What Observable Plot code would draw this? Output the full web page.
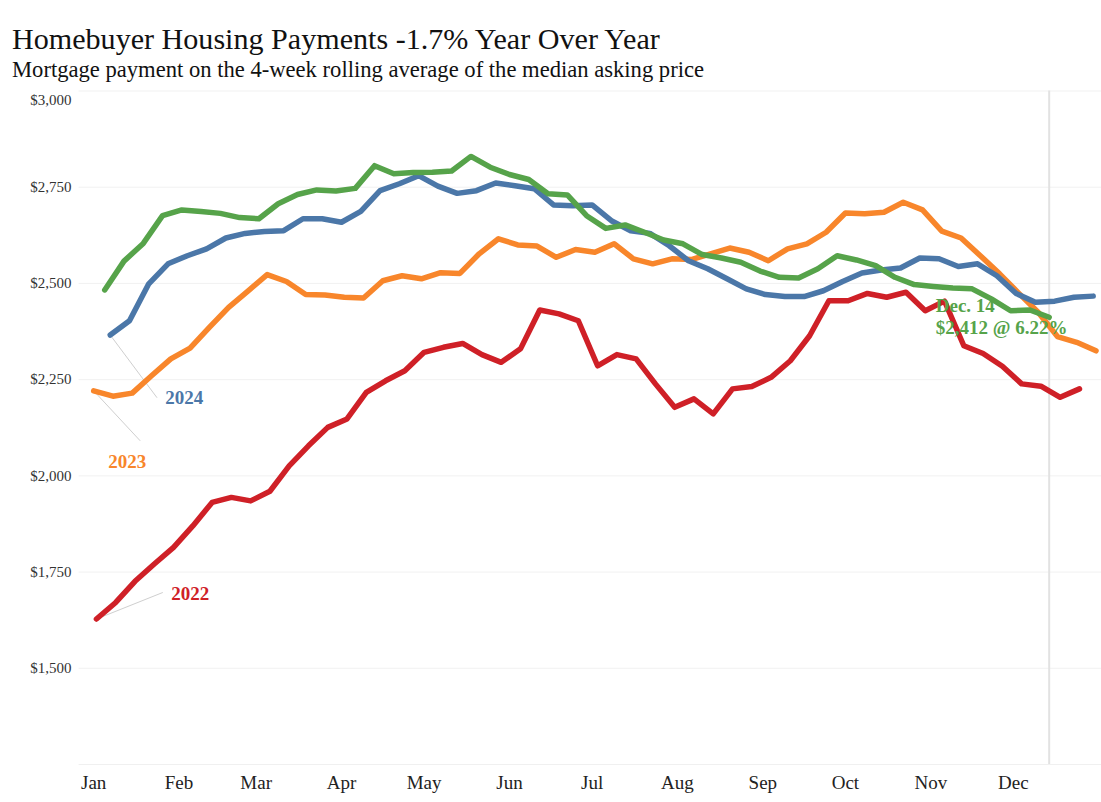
<!DOCTYPE html>
<html><head><meta charset="utf-8">
<script src="https://cdn.jsdelivr.net/npm/d3@7"></script>
<script src="https://cdn.jsdelivr.net/npm/@observablehq/plot@0.6"></script>
<style>
body{margin:0;background:#fff;}
#wrap{position:relative;width:1101px;height:802px;font-family:"Liberation Serif","Times New Roman",serif;overflow:hidden;}
#title{position:absolute;left:12px;top:24px;font-size:30.1px;line-height:1;color:#111;white-space:nowrap;}
#sub{position:absolute;left:12px;top:59px;font-size:22.6px;line-height:1;color:#111;white-space:nowrap;}
#chart{position:absolute;left:0;top:0;}
</style></head><body>
<div id="wrap">
<div id="title">Homebuyer Housing Payments -1.7% Year Over Year</div>
<div id="sub">Mortgage payment on the 4-week rolling average of the median asking price</div>
<div id="chart"></div>
</div>
<script>
// Week-ending dates: first week's day-of-year offset (0 = Jan 1), weekly after that
const firstWeekDay = {"2022": 1, "2023": 0, "2024": 6, "2025": 4};

const values2022 = [1628,1671,1726,1771,1814,1870,1931,1944,1935,1960,2026,2078,2126,2148,2217,2247,2273,2321,2334,2344,2315,2295,2330,2431,2421,2403,2286,2315,2304,2239,2178,2200,2161,2226,2232,2256,2299,2364,2455,2455,2474,2464,2477,2429,2454,2338,2318,2285,2239,2233,2204,2226];
const values2023 = [2221,2207,2215,2260,2304,2332,2386,2438,2480,2523,2505,2471,2470,2464,2462,2507,2520,2512,2528,2526,2577,2616,2600,2597,2568,2588,2581,2603,2564,2551,2564,2562,2577,2592,2581,2559,2590,2603,2633,2683,2681,2685,2711,2691,2636,2618,2572,2525,2474,2425,2362,2347,2325];
const values2024 = [2366,2403,2499,2551,2572,2590,2618,2630,2635,2637,2668,2668,2659,2687,2741,2759,2780,2753,2734,2741,2761,2754,2746,2704,2702,2704,2663,2637,2630,2598,2559,2538,2512,2486,2471,2466,2466,2481,2505,2527,2535,2540,2566,2564,2544,2551,2520,2474,2451,2454,2464,2467];
const values2025 = [2483,2558,2604,2676,2691,2687,2682,2671,2668,2707,2731,2743,2740,2747,2806,2785,2788,2789,2792,2830,2802,2783,2770,2733,2730,2676,2643,2652,2633,2613,2603,2575,2566,2555,2532,2516,2514,2538,2572,2561,2546,2516,2497,2492,2488,2486,2460,2429,2431,2412];

const monthLabels = ["Jan","Feb","Mar","Apr","May","Jun","Jul","Aug","Sep","Oct","Nov","Dec"];
const monthStartDays = [0,31,59,90,120,151,181,212,243,273,304,334];
const yTicks = [1500,1750,2000,2250,2500,2750];
const yTopTick = 3000;

const seriesColors = {"2022":"#cf2027","2023":"#f8862b","2024":"#4b77a8","2025":"#56a34a"};

// year labels (data units) and their leader lines
const yearLabels = ["2024","2023","2022"];
const yearLabelDay = [26.0, 5.3, 28.2];
const yearLabelValue = [2203, 2037, 1694];
const leaderEndDay = [23.0, 16.9, 25.1];
const leaderEndValue = [2203, 2091, 1697];

const noteLines = ["Dec. 14", "$2,412 @ 6.22%"];
const noteDay = 305.8;
const noteValues = [2441, 2384];

function rows(year, vals){
  return vals.map((v,i)=>({year, day: firstWeekDay[year] + 7*i, value: v}));
}
const s2022 = rows("2022", values2022);
const s2023 = rows("2023", values2023);
const s2024 = rows("2024", values2024);
const s2025 = rows("2025", values2025);
const latest = s2025[s2025.length-1];

const firstPoint = {"2024": s2024[0], "2023": s2023[0], "2022": s2022[0]};
const leaders = yearLabels.map((y,i)=>({x1:firstPoint[y].day, y1:firstPoint[y].value, x2:leaderEndDay[i], y2:leaderEndValue[i]}));
const labels = yearLabels.map((y,i)=>({text:y, day:yearLabelDay[i], value:yearLabelValue[i]}));
const notes = noteLines.map((t,i)=>({text:t, day:noteDay, value:noteValues[i]}));

const fmt = d => "$" + d3.format(",")(d);
const lineOpts = {x:"day", y:"value", strokeWidth:5.5, strokeLinejoin:"round", strokeLinecap:"round"};

const chart = Plot.plot({
  width:1101, height:802,
  marginTop:90.5, marginBottom:38, marginLeft:78.6, marginRight:0,
  style:{fontFamily:'"Liberation Serif","Times New Roman",serif', background:"transparent", overflow:"visible"},
  x:{type:"linear", domain:[-5.3,366]},
  y:{domain:[1250,3000]},
  marks:[
    Plot.gridY([1250, ...yTicks, yTopTick], {stroke:"#000", strokeOpacity:0.06}),
    Plot.ruleX([latest.day], {stroke:"#e2e2e2", strokeWidth:2}),
    Plot.axisY(yTicks, {tickSize:0, tickPadding:7.6, tickFormat:fmt, fontSize:15, fill:"#333"}),
    Plot.axisY([yTopTick], {tickSize:0, tickPadding:7.6, tickFormat:fmt, fontSize:15, fill:"#333", dy:9}),
    Plot.axisX(monthStartDays, {tickSize:0, tickPadding:11, tickFormat:(d,i)=>monthLabels[i], fontSize:19, fill:"#222"}),
    Plot.link(leaders, {x1:"x1", y1:"y1", x2:"x2", y2:"y2", stroke:"#cfcfcf", strokeWidth:1}),
    Plot.line(s2022, {...lineOpts, stroke:seriesColors["2022"]}),
    Plot.line(s2023, {...lineOpts, stroke:seriesColors["2023"]}),
    Plot.line(s2024, {...lineOpts, stroke:seriesColors["2024"]}),
    Plot.line(s2025, {...lineOpts, stroke:seriesColors["2025"]}),
    Plot.text(labels, {x:"day", y:"value", text:"text", textAnchor:"start", fontSize:19, fontWeight:"bold", fill:d=>seriesColors[d.text]}),
    Plot.text(notes, {x:"day", y:"value", text:"text", textAnchor:"start", fontSize:19, fontWeight:"bold", fill:seriesColors["2025"]})
  ]
});
document.getElementById("chart").appendChild(chart);
</script>
</body></html>
